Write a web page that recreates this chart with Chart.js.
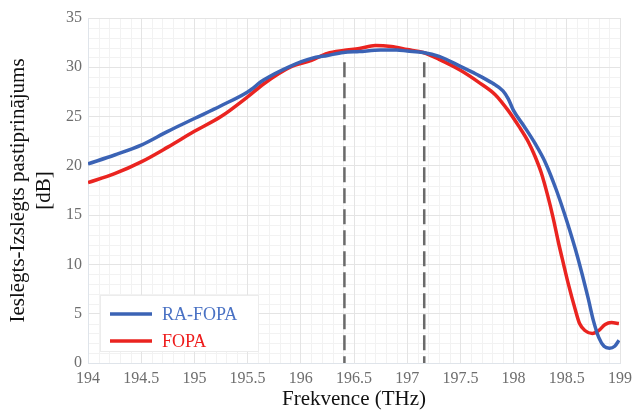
<!DOCTYPE html>
<html>
<head>
<meta charset="utf-8">
<script src="https://cdn.jsdelivr.net/npm/chart.js@4/dist/chart.umd.min.js"></script>
<style>
  html, body { margin: 0; padding: 0; background: #fff; }
  #wrap { width: 638px; height: 413px; }
</style>
</head>
<body>
<div id="wrap"><canvas id="chart" width="638" height="413"></canvas></div>
<script>
/* On-off gain vs. frequency, RA-FOPA vs FOPA */

const SERIF = "'Liberation Serif', 'Times New Roman', serif";

const raFreq = [194.0, 194.25, 194.5, 194.75, 195.0, 195.25, 195.5, 195.65, 195.9, 196.1, 196.25, 196.4,
  196.55, 196.75, 196.9, 197.0, 197.15, 197.3, 197.5, 197.65, 197.8, 197.9, 197.95, 198.0, 198.1,
  198.2, 198.3, 198.4, 198.5, 198.6, 198.7, 198.75, 198.8, 198.85, 198.9, 198.95, 198.99];
const raGain = [20.2, 21.1, 22.1, 23.5, 24.8, 26.1, 27.5, 28.7, 30.1, 30.9, 31.2, 31.5,
  31.6, 31.75, 31.75, 31.65, 31.5, 31.1, 30.1, 29.3, 28.4, 27.6, 26.8, 25.6, 24.0,
  22.3, 20.3, 17.6, 14.4, 10.8, 6.6, 4.3, 2.6, 1.7, 1.5, 1.7, 2.3];

const fopaFreq = [194.0, 194.25, 194.5, 194.75, 195.0, 195.25, 195.5, 195.65, 195.9, 196.1, 196.25, 196.4,
  196.55, 196.7, 196.85, 197.0, 197.15, 197.3, 197.5, 197.67, 197.83, 197.95, 198.05, 198.14, 198.2,
  198.26, 198.32, 198.37, 198.42, 198.47, 198.51, 198.58, 198.62, 198.67, 198.74, 198.8, 198.86, 198.92, 198.99];
const fopaGain = [18.3, 19.2, 20.4, 21.9, 23.5, 25.0, 27.0, 28.3, 30.0, 30.7, 31.4, 31.7,
  31.9, 32.2, 32.1, 31.8, 31.5, 30.8, 29.7, 28.5, 27.2, 25.6, 24.0, 22.4, 21.0,
  19.3, 17.0, 14.8, 12.3, 10.0, 8.2, 5.4, 4.0, 3.3, 3.0, 3.3, 3.9, 4.1, 4.0];

// vertical dashed markers (THz) and the gain they reach up to
const markerFreq = [196.41, 197.16];
const markerTop = 30.5;

const seriesLabels = ["RA-FOPA", "FOPA"];
const seriesColors = ["#3b63b5", "#ea2420"];
const legendTextColors = ["#4a72c4", "#ee1c1c"];

const xTitle = "Frekvence (THz)";
const yTitle = ["Ieslēgts-Izslēgts pastiprinājums", "[dB]"];

function pts(xs, ys) { return xs.map((x, i) => ({ x, y: ys[i] })); }

const datasets = [
  { label: seriesLabels[0], data: pts(raFreq, raGain), borderColor: seriesColors[0], borderWidth: 3.5,
    pointRadius: 0, cubicInterpolationMode: "monotone", order: 1 },
  { label: seriesLabels[1], data: pts(fopaFreq, fopaGain), borderColor: seriesColors[1], borderWidth: 3.5,
    pointRadius: 0, cubicInterpolationMode: "monotone", order: 2 },
];
for (const f of markerFreq) {
  datasets.push({ label: "", data: [{ x: f, y: markerTop }, { x: f, y: 0 }], borderColor: "#6a6a6a",
    borderWidth: 2.5, borderDash: [15, 6], pointRadius: 0, order: 3 });
}

// light minor grid (0.1 THz / 1 dB) under everything
const minorGrid = {
  id: "minorGrid",
  beforeDraw(chart) {
    const { ctx, chartArea: a, scales: { x, y } } = chart;
    ctx.save();
    ctx.strokeStyle = "#f2f2f2";
    ctx.lineWidth = 1;
    ctx.beginPath();
    for (let i = 1; i < 50; i++) {
      if (i % 5 === 0) continue;
      const px = Math.round(x.getPixelForValue(194 + i * 0.1)) + 0.5;
      ctx.moveTo(px, a.top); ctx.lineTo(px, a.bottom);
    }
    for (let i = 1; i < 35; i++) {
      if (i % 5 === 0) continue;
      const py = Math.round(y.getPixelForValue(i)) + 0.5;
      ctx.moveTo(a.left, py); ctx.lineTo(a.right, py);
    }
    ctx.stroke();
    ctx.restore();
  },
};

// legend box inside the plot, lower left
const innerLegend = {
  id: "innerLegend",
  afterDraw(chart) {
    const { ctx } = chart;
    const bx = 100, by = 295, bw = 158, bh = 56;
    ctx.save();
    ctx.fillStyle = "#ffffff";
    ctx.fillRect(bx, by, bw, bh);
    ctx.strokeStyle = "#ececec";
    ctx.lineWidth = 1;
    ctx.strokeRect(bx + 0.5, by + 0.5, bw, bh);
    ctx.font = "18px " + SERIF;
    ctx.textBaseline = "middle";
    seriesLabels.forEach((lab, i) => {
      const ly = by + 19 + i * 27;
      ctx.strokeStyle = seriesColors[i];
      ctx.lineWidth = 3.5;
      ctx.beginPath(); ctx.moveTo(bx + 10, ly); ctx.lineTo(bx + 52, ly); ctx.stroke();
      ctx.fillStyle = legendTextColors[i];
      ctx.fillText(lab, bx + 62, ly + 1);
    });
    ctx.restore();
  },
};

new Chart(document.getElementById("chart"), {
  type: "line",
  data: { datasets },
  plugins: [minorGrid, innerLegend],
  options: {
    responsive: false, animation: false,
    layout: { padding: { top: 18, right: 16, left: 0, bottom: 0 } },
    plugins: { legend: { display: false }, tooltip: { enabled: false } },
    scales: {
      x: {
        type: "linear", min: 194, max: 199,
        ticks: { stepSize: 0.5, color: "#6e6e6e", font: { family: SERIF, size: 16 }, padding: 6, maxRotation: 0,
          callback: (v) => String(Math.round(v * 10) / 10) },
        grid: { color: "#e4e4e4", drawTicks: false },
        border: { color: "#dfe4ea" },
        title: { display: true, text: xTitle, color: "#111", font: { family: SERIF, size: 21, lineHeight: 1.24 }, padding: 0 },
        afterFit(s) { s.height = 50; },
      },
      y: {
        min: 0, max: 35,
        ticks: { stepSize: 5, color: "#6e6e6e", font: { family: SERIF, size: 16 }, padding: 6 },
        grid: { color: "#e4e4e4", drawTicks: false },
        border: { color: "#dfe4ea" },
        title: { display: true, text: yTitle, color: "#111", font: { family: SERIF, size: 21, lineHeight: 1.24 }, padding: { top: 5, bottom: 0 } },
        afterFit(s) { s.width = 88; },
      },
    },
  },
});
</script>
</body>
</html>
